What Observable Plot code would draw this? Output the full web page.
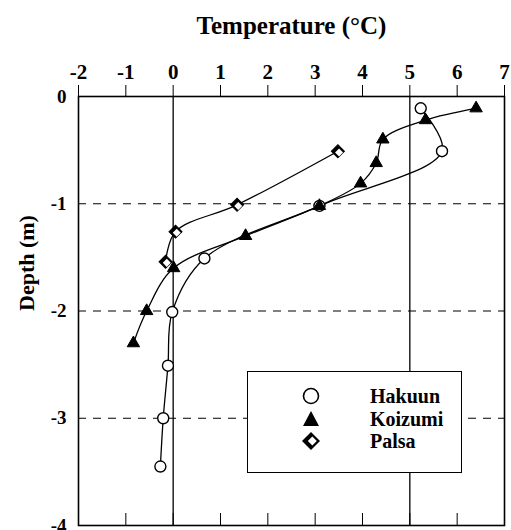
<!DOCTYPE html>
<html>
<head>
<meta charset="utf-8">
<script src="https://cdn.jsdelivr.net/npm/d3@7"></script>
<script src="https://cdn.jsdelivr.net/npm/@observablehq/plot@0.6"></script>
<style>
  html, body { margin: 0; padding: 0; background: #fff; }
  #wrap { position: relative; width: 511px; height: 530px; font-family: "Liberation Serif", "DejaVu Serif", serif; }
  #legend { position: absolute; left: 247px; top: 371px; width: 213px; height: 100px; border: 1.5px solid #000; background: #fff; }
  .item { position: absolute; left: 0; height: 22px; width: 213px; }
  .item svg { position: absolute; left: 52px; top: 0; }
  .item span { position: absolute; left: 122px; top: 0; font-family: "Liberation Serif", serif; font-weight: bold; font-size: 20px; line-height: 22px; color: #000; }
  svg text { font-family: "Liberation Serif", serif; }
</style>
</head>
<body>
<div id="wrap"></div>
<script>
// ---- data ----
const seriesNames = ["Hakuun", "Koizumi", "Palsa"];

const hakuunTemp  = [5.23, 5.68, 3.09, 0.66, -0.02, -0.11, -0.21, -0.27];
const hakuunDepth = [-0.11, -0.51, -1.02, -1.51, -2.01, -2.51, -3.00, -3.45];

const koizumiTemp  = [6.40, 5.33, 4.43, 4.29, 3.96, 3.09, 1.53, 0.01, -0.56, -0.84];
const koizumiDepth = [-0.11, -0.22, -0.40, -0.62, -0.81, -1.02, -1.30, -1.60, -2.00, -2.30];

const palsaTemp  = [3.48, 1.35, 0.05, -0.16];
const palsaDepth = [-0.51, -1.01, -1.26, -1.54];

const xTicks = [-2, -1, 0, 1, 2, 3, 4, 5, 6, 7];
const yTicks = [0, -1, -2, -3, -4];
const gridDepths = [-1, -2, -3];
const solidTemps = [0, 5];

const toRows = (t, d) => t.map((v, i) => ({temp: v, depth: d[i]}));
const hakuun = toRows(hakuunTemp, hakuunDepth);
const koizumi = toRows(koizumiTemp, koizumiDepth);
const palsa = toRows(palsaTemp, palsaDepth);

const font = "Liberation Serif";

const chart = Plot.plot({
  width: 511,
  height: 530,
  marginLeft: 78,
  marginRight: 7,
  marginTop: 96,
  marginBottom: 5,
  style: {fontFamily: font, fontWeight: "bold", background: "#fff", color: "#000"},
  x: {domain: [-2, 7]},
  y: {domain: [-4, 0]},
  marks: [
    Plot.ruleY(gridDepths, {stroke: "#000", strokeWidth: 1.2, strokeDasharray: "8,7"}),
    Plot.ruleX(solidTemps, {stroke: "#000", strokeWidth: 1.3}),
    Plot.frame({stroke: "#000", strokeWidth: 1.6}),
    Plot.axisX({anchor: "top", ticks: xTicks, tickSize: 12, tickPadding: 6, tickFormat: d => String(d), fontSize: 21, fontFamily: font, fontWeight: "bold", label: null, stroke: "#000"}),
    Plot.axisX({anchor: "bottom", ticks: xTicks, tickSize: -12, tickFormat: () => "", label: null, stroke: "#000"}),
    Plot.axisY({anchor: "left", ticks: yTicks, tickSize: 0, tickPadding: 12, tickFormat: d => String(d), fontSize: 19, fontFamily: font, fontWeight: "bold", label: null}),
    Plot.text(["Temperature (°C)"], {frameAnchor: "top", dy: -80, fontSize: 25, fontFamily: font, fontWeight: "bold", fill: "#000"}),
    Plot.text(["Depth (m)"], {frameAnchor: "left", dx: -52, rotate: -90, fontSize: 22, fontFamily: font, fontWeight: "bold", fill: "#000"}),
    Plot.line(hakuun, {x: "temp", y: "depth", curve: "catmull-rom", stroke: "#000", strokeWidth: 1.3}),
    Plot.line(koizumi, {x: "temp", y: "depth", curve: "catmull-rom", stroke: "#000", strokeWidth: 1.3}),
    Plot.line(palsa, {x: "temp", y: "depth", curve: "catmull-rom", stroke: "#000", strokeWidth: 1.3}),
    Plot.dot(hakuun, {x: "temp", y: "depth", symbol: "circle", r: 5.5, fill: "#fff", stroke: "#000", strokeWidth: 1.4}),
    Plot.dot(koizumi, {x: "temp", y: "depth", symbol: "triangle", r: 4.6, fill: "#000", stroke: "#000", strokeWidth: 1}),
    Plot.dot(palsa, {x: "temp", y: "depth", symbol: "square", rotate: 45, r: 5.2, fill: "#000", stroke: "#000", strokeWidth: 1}),
    Plot.dot(palsa, {x: "temp", y: "depth", symbol: "square", rotate: 45, r: 3.2, dx: 1.2, dy: 1.2, fill: "#fff"})
  ]
});

const wrap = document.getElementById("wrap");
wrap.appendChild(chart);

// legend overlay
const legend = document.createElement("div");
legend.id = "legend";
const symbols = [
  '<circle cx="11" cy="11" r="7.5" fill="#fff" stroke="#000" stroke-width="1.6"/>',
  '<path d="M11,3 L19,18 L3,18 Z" fill="#000"/>',
  '<path d="M11,2 L20,11 L11,20 L2,11 Z" fill="#000"/><path d="M12.3,6.5 L16.8,11 L12.3,15.5 L7.8,11 Z" fill="#fff"/>'
];
seriesNames.forEach((name, i) => {
  const item = document.createElement("div");
  item.className = "item";
  item.style.top = (13 + i * 22.5) + "px";
  item.innerHTML = `<svg width="22" height="22" viewBox="0 0 22 22">${symbols[i]}</svg><span>${name}</span>`;
  legend.appendChild(item);
});
wrap.appendChild(legend);
</script>
</body>
</html>
